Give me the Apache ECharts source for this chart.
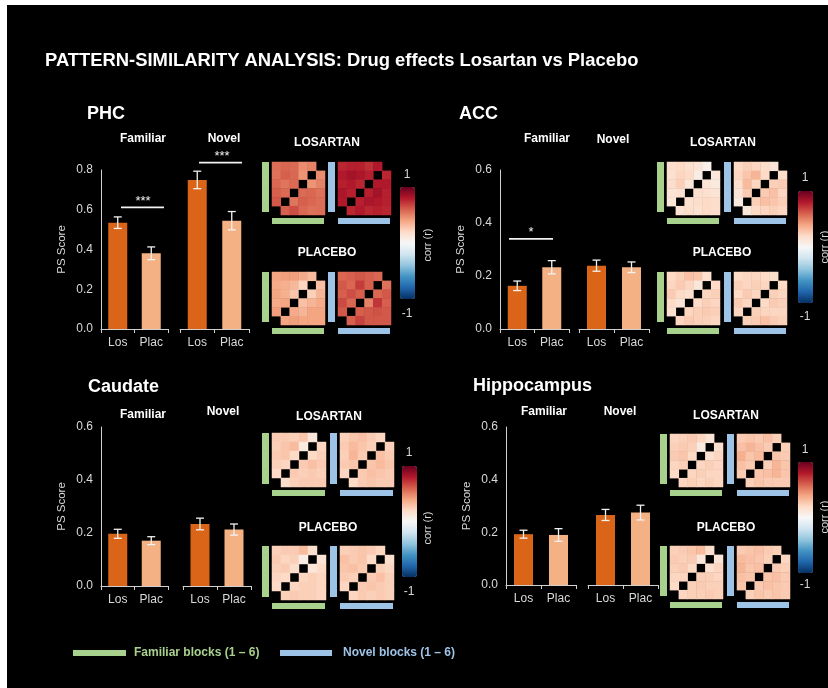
<!DOCTYPE html>
<html><head><meta charset="utf-8">
<script src="https://cdn.jsdelivr.net/npm/echarts@6/dist/echarts.min.js"></script>
<style>
html,body{margin:0;padding:0;background:#fff;width:828px;height:688px;overflow:hidden;}
#bg{position:absolute;left:7px;top:5px;right:0;bottom:0;background:#000;}
#c{position:absolute;left:0;top:0;width:828px;height:688px;}
</style>
</head><body><div id="bg"></div><div id="c"></div>
<script>
// ---------------- DATA ----------------
const regionNames = ['PHC', 'ACC', 'Caudate', 'Hippocampus'];
const conditions = ['Familiar', 'Novel'];
const groups = ['Los', 'Plac'];
const blockLabels = ['1', '2', '3', '4', '5', '6'];
const drugLabels = ['LOSARTAN', 'PLACEBO'];
const colorbarLabels = ['1', '-1'];
const legendLabels = ['Familiar blocks (1 – 6)', 'Novel blocks (1 – 6)'];

const phcFamiliarMean = [0.535, 0.381];  const phcFamiliarSem = [0.029, 0.032];
const phcNovelMean    = [0.750, 0.545];  const phcNovelSem    = [0.044, 0.046];
const accFamiliarMean = [0.163, 0.233];  const accFamiliarSem = [0.018, 0.025];
const accNovelMean    = [0.239, 0.233];  const accNovelSem    = [0.021, 0.020];
const caudateFamiliarMean = [0.197, 0.171]; const caudateFamiliarSem = [0.017, 0.015];
const caudateNovelMean    = [0.234, 0.213]; const caudateNovelSem    = [0.022, 0.021];
const hippoFamiliarMean   = [0.193, 0.190]; const hippoFamiliarSem   = [0.015, 0.024];
const hippoNovelMean      = [0.266, 0.275]; const hippoNovelSem      = [0.021, 0.028];
const yMaxByRegion = [0.8, 0.6, 0.6, 0.6];

// significance: [region, condition, label, height of bar line (PS score)]
const sigMarks = [[0, 0, '***', 0.612], [0, 1, '***', 0.837], [1, 0, '*', 0.340]];

// correlation matrices (rows top -> bottom, null = diagonal)
const phcLosFam = [
 [0.56,0.58,0.57,0.47,0.50,null],[0.55,0.60,0.58,0.45,null,0.47],[0.58,0.54,0.57,null,0.45,0.50],
 [0.60,0.57,null,0.57,0.58,0.55],[0.62,null,0.54,0.60,0.58,0.56],[null,0.60,0.65,0.58,0.55,0.56]];
const phcLosNov = [
 [0.76,0.78,0.78,0.74,0.80,null],[0.80,0.84,0.82,0.78,null,0.76],[0.78,0.80,0.76,null,0.80,0.80],
 [0.82,0.78,null,0.78,0.84,0.78],[0.80,null,0.78,0.82,0.80,0.78],[null,0.76,0.80,0.76,0.78,0.76]];
const phcPlaFam = [
 [0.40,0.42,0.42,0.38,0.32,null],[0.38,0.36,0.33,0.22,null,0.30],[0.40,0.36,0.28,null,0.24,0.34],
 [0.38,0.40,null,0.30,0.34,0.38],[0.42,null,0.38,0.34,0.40,0.40],[null,0.40,0.42,0.40,0.40,0.40]];
const phcPlaNov = [
 [0.58,0.60,0.62,0.60,0.58,null],[0.62,0.58,0.70,0.60,null,0.55],[0.60,0.65,0.60,null,0.58,0.62],
 [0.66,0.58,null,0.50,0.72,0.60],[0.62,null,0.60,0.62,0.64,0.62],[null,0.60,0.68,0.62,0.62,0.62]];
const accLosFam = [
 [0.18,0.20,0.16,0.14,0.05,null],[0.16,0.22,0.20,0.08,null,0.12],[0.18,0.24,0.12,null,0.14,0.10],
 [0.14,0.16,null,0.18,0.16,0.14],[0.12,null,0.16,0.18,0.20,0.18],[null,0.14,0.18,0.16,0.20,0.18]];
const accLosNov = [
 [0.20,0.24,0.22,0.18,0.14,null],[0.22,0.28,0.34,0.20,null,0.18],[0.18,0.32,0.22,null,0.24,0.26],
 [0.14,0.26,null,0.26,0.30,0.22],[0.10,null,0.24,0.30,0.28,0.24],[null,0.12,0.20,0.22,0.24,0.22]];
const accPlaFam = [
 [0.20,0.24,0.30,0.28,0.16,null],[0.22,0.26,0.22,0.12,null,0.20],[0.26,0.20,0.16,null,0.22,0.24],
 [0.20,0.14,null,0.20,0.24,0.22],[0.16,null,0.22,0.24,0.26,0.24],[null,0.22,0.26,0.24,0.24,0.22]];
const accPlaNov = [
 [0.20,0.22,0.22,0.20,0.18,null],[0.24,0.22,0.24,0.22,null,0.20],[0.20,0.26,0.22,null,0.24,0.22],
 [0.26,0.22,null,0.20,0.26,0.24],[0.22,null,0.24,0.22,0.22,0.22],[null,0.24,0.26,0.30,0.26,0.24]];
const caudateLosFam = [
 [0.26,0.26,0.24,0.28,0.12,null],[0.24,0.28,0.32,0.10,null,0.22],[0.26,0.28,0.20,null,0.20,0.24],
 [0.24,0.22,null,0.26,0.30,0.26],[0.20,null,0.26,0.24,0.26,0.24],[null,0.18,0.24,0.26,0.26,0.26]];
const caudateLosNov = [
 [0.24,0.28,0.30,0.26,0.22,null],[0.26,0.32,0.28,0.24,null,0.24],[0.24,0.34,0.26,null,0.30,0.26],
 [0.26,0.28,null,0.28,0.32,0.28],[0.22,null,0.26,0.30,0.28,0.26],[null,0.20,0.26,0.28,0.26,0.26]];
const caudatePlaFam = [
 [0.24,0.26,0.26,0.32,0.18,null],[0.26,0.22,0.24,0.08,null,0.14],[0.24,0.26,0.18,null,0.12,0.20],
 [0.22,0.20,null,0.22,0.24,0.22],[0.20,null,0.22,0.24,0.24,0.22],[null,0.24,0.26,0.24,0.24,0.22]];
const caudatePlaNov = [
 [0.24,0.26,0.28,0.26,0.22,null],[0.30,0.26,0.28,0.20,null,0.18],[0.28,0.30,0.26,null,0.24,0.22],
 [0.26,0.24,null,0.26,0.30,0.24],[0.22,null,0.26,0.28,0.26,0.24],[null,0.22,0.26,0.24,0.26,0.24]];
const hippoLosFam = [
 [0.22,0.24,0.26,0.22,0.14,null],[0.24,0.26,0.24,0.10,null,0.18],[0.26,0.28,0.20,null,0.16,0.22],
 [0.22,0.24,null,0.22,0.24,0.22],[0.20,null,0.22,0.24,0.22,0.22],[null,0.22,0.24,0.22,0.24,0.22]];
const hippoLosNov = [
 [0.26,0.28,0.26,0.30,0.24,null],[0.30,0.34,0.30,0.26,null,0.24],[0.36,0.28,0.32,null,0.28,0.26],
 [0.30,0.26,null,0.24,0.34,0.28],[0.26,null,0.28,0.30,0.34,0.28],[null,0.24,0.28,0.26,0.26,0.26]];
const hippoPlaFam = [
 [0.24,0.26,0.28,0.32,0.18,null],[0.26,0.24,0.26,0.12,null,0.14],[0.24,0.26,0.20,null,0.16,0.22],
 [0.22,0.22,null,0.24,0.24,0.22],[0.20,null,0.24,0.26,0.24,0.24],[null,0.22,0.24,0.24,0.26,0.24]];
const hippoPlaNov = [
 [0.26,0.28,0.30,0.26,0.24,null],[0.32,0.30,0.28,0.24,null,0.22],[0.34,0.28,0.30,null,0.26,0.24],
 [0.30,0.28,null,0.28,0.30,0.26],[0.28,null,0.26,0.30,0.28,0.26],[null,0.24,0.28,0.26,0.28,0.26]];

// ---------------- STYLE / LAYOUT ----------------
const FONT = '"Liberation Sans", Arial, sans-serif';
const AX = '#d0d0d0', TXT = '#d9d9d9';
const BAR_COLORS = ['#da6519', '#f4b183'];
const GREEN = '#a9d18e', BLUE = '#9dc3e6';
const RDBU = ['#053061','#2166ac','#4393c3','#92c5de','#d1e5f0','#f7f7f7','#fddbc7','#f4a582','#d6604d','#b2182b','#67001f'];

const layout = [
 { fam:[101,170,67,159], nov:[180,170,69,159], title:[87,114], famLbl:[143,139], novLbl:[224,139],
   heat:[[272,162],[338,162],[272,272],[338,272]], hs:53, drugLbl:[[327,143],[327,253]],
   cbar:[400,187,15,112], cbTxt:[[407,175],[407,314]], corr:[428,245],
   sig:[[121,164,143],[199,242,222]] },
 { fam:[500,170,69,159], nov:[579,170,70,159], title:[459,114], famLbl:[547,139], novLbl:[613,140],
   heat:[[667,162],[734,162],[667,272],[734,272]], hs:53, drugLbl:[[723,143],[722,253]],
   cbar:[798,191,15,112], cbTxt:[[805,178],[805,317]], corr:[825,247],
   sig:[[509,553,531]] },
 { fam:[101,427,67,159], nov:[183,427,68,159], title:[88,387], famLbl:[143,415], novLbl:[223,412],
   heat:[[272,433],[340,433],[272,546],[340,546]], hs:54, drugLbl:[[329,417],[328,528]],
   cbar:[402,466,15,111], cbTxt:[[409,453],[409,592]], corr:[428,528], sig:[] },
 { fam:[506,427,70,158], nov:[588,427,70,158], title:[473,386], famLbl:[544,412], novLbl:[620,412],
   heat:[[670,434],[737,434],[670,546],[737,546]], hs:53, drugLbl:[[726,416],[726,528]],
   cbar:[798,462,15,111], cbTxt:[[805,450],[805,585]], corr:[825,517], sig:[] }
];

const regionBars = [
 [[phcFamiliarMean, phcFamiliarSem], [phcNovelMean, phcNovelSem]],
 [[accFamiliarMean, accFamiliarSem], [accNovelMean, accNovelSem]],
 [[caudateFamiliarMean, caudateFamiliarSem], [caudateNovelMean, caudateNovelSem]],
 [[hippoFamiliarMean, hippoFamiliarSem], [hippoNovelMean, hippoNovelSem]]
];
const regionMatrices = [
 [phcLosFam, phcLosNov, phcPlaFam, phcPlaNov],
 [accLosFam, accLosNov, accPlaFam, accPlaNov],
 [caudateLosFam, caudateLosNov, caudatePlaFam, caudatePlaNov],
 [hippoLosFam, hippoLosNov, hippoPlaFam, hippoPlaNov]
];

// ---------------- BUILD ----------------
const grids = [], xAxes = [], yAxes = [], series = [], visualMaps = [], graphics = [];

function txt(x, y, text, fill, font, align, valign, rotation) {
  return { type:'text', x, y, rotation: rotation || 0, silent:true, z:50,
    style:{ text, fill, font, align: align||'left', verticalAlign: valign||'middle',
            textAlign: align||'left', textVerticalAlign: valign||'middle' } };
}
function rect(x, y, w, h, fill) {
  return { type:'rect', shape:{x, y, width:w, height:h}, style:{fill}, silent:true, z:40 };
}

function errRender(params, api) {
  const x = api.value(0);
  const lo = api.coord([x, api.value(1)]), hi = api.coord([x, api.value(2)]);
  const w = 4, st = { stroke:'#f2f2f2', lineWidth:1.3 };
  return { type:'group', children:[
    { type:'line', shape:{x1:lo[0], y1:lo[1], x2:hi[0], y2:hi[1]}, style:st },
    { type:'line', shape:{x1:lo[0]-w, y1:lo[1], x2:lo[0]+w, y2:lo[1]}, style:st },
    { type:'line', shape:{x1:hi[0]-w, y1:hi[1], x2:hi[0]+w, y2:hi[1]}, style:st } ] };
}

function addBarGrid(r, means, sems, max, showY) {
  const gi = grids.length;
  grids.push({ left:r[0], top:r[1], width:r[2], height:r[3], containLabel:false, outerBoundsMode:'none' });
  xAxes.push({ type:'category', gridIndex:gi, data:groups,
    axisLine:{ lineStyle:{ color:AX, width:1 } }, axisTick:{ show:true, length:4, lineStyle:{ color:AX } },
    axisLabel:{ color:TXT, fontSize:12, margin:8, fontFamily:FONT }, splitLine:{ show:false } });
  yAxes.push({ type:'value', gridIndex:gi, min:0, max:max, interval:0.2, show:showY,
    axisLine:{ show:true, lineStyle:{ color:AX } }, axisTick:{ show:false }, splitLine:{ show:false },
    axisLabel:{ color:TXT, fontSize:12, margin:8, fontFamily:FONT, formatter:v => v.toFixed(1) },
    name: showY ? 'PS Score' : '', nameLocation:'middle', nameGap:33,
    nameTextStyle:{ color:TXT, fontSize:11.5, fontFamily:FONT } });
  series.push({ type:'bar', xAxisIndex:gi, yAxisIndex:gi, barWidth:19, silent:true,
    data: means.map((v, i) => ({ value:v, itemStyle:{ color:BAR_COLORS[i] } })) });
  series.push({ type:'custom', xAxisIndex:gi, yAxisIndex:gi, silent:true, z:5,
    encode:{ x:0, y:[1,2] }, renderItem: errRender,
    data: means.map((v, i) => [i, v - sems[i], v + sems[i]]) });
  return gi;
}

function addHeat(x, y, size, matrix) {
  const gi = grids.length;
  grids.push({ left:x, top:y, width:size, height:size, containLabel:false, outerBoundsMode:'none' });
  xAxes.push({ type:'category', gridIndex:gi, data:blockLabels, show:false });
  yAxes.push({ type:'category', gridIndex:gi, data:blockLabels, show:false });
  const data = [];
  matrix.forEach((row, r) => row.forEach((v, c) => { if (v !== null) data.push([c, matrix.length - 1 - r, v]); }));
  series.push({ type:'heatmap', xAxisIndex:gi, yAxisIndex:gi, data, silent:true, itemStyle:{ borderWidth:0 } });
  return series.length - 1;
}

const barGridIdx = [];
graphics.push(txt(45, 61, 'PATTERN-SIMILARITY ANALYSIS: Drug effects Losartan vs Placebo', '#ffffff', 'bold 18.4px ' + FONT));

regionNames.forEach((name, p) => {
  const L = layout[p];
  const fam = addBarGrid(L.fam, regionBars[p][0][0], regionBars[p][0][1], yMaxByRegion[p], true);
  const nov = addBarGrid(L.nov, regionBars[p][1][0], regionBars[p][1][1], yMaxByRegion[p], false);
  barGridIdx.push([fam, nov]);
  graphics.push(txt(L.title[0], L.title[1], name, '#ffffff', 'bold 18px ' + FONT));
  graphics.push(txt(L.famLbl[0], L.famLbl[1], conditions[0], '#ffffff', 'bold 12px ' + FONT, 'center'));
  graphics.push(txt(L.novLbl[0], L.novLbl[1], conditions[1], '#ffffff', 'bold 12px ' + FONT, 'center'));

  const heatSeries = [];
  L.heat.forEach((pos, k) => {
    heatSeries.push(addHeat(pos[0], pos[1], L.hs, regionMatrices[p][k]));
    const col = (k % 2 === 0) ? GREEN : BLUE;
    graphics.push(rect(pos[0] - 10, pos[1], 7, L.hs - 3, col));
    graphics.push(rect(pos[0], pos[1] + L.hs + 3, L.hs - 1, 6, col));
  });
  graphics.push(txt(L.drugLbl[0][0], L.drugLbl[0][1], drugLabels[0], '#ffffff', 'bold 12px ' + FONT, 'center'));
  graphics.push(txt(L.drugLbl[1][0], L.drugLbl[1][1], drugLabels[1], '#ffffff', 'bold 12px ' + FONT, 'center'));

  visualMaps.push({ type:'continuous', min:-1, max:1, seriesIndex:heatSeries, orient:'vertical',
    left:L.cbar[0], top:L.cbar[1], itemWidth:L.cbar[2], itemHeight:L.cbar[3], padding:0,
    calculable:false, hoverLink:false, inRange:{ color:RDBU } });
  graphics.push(txt(L.cbTxt[0][0], L.cbTxt[0][1], colorbarLabels[0], TXT, '12px ' + FONT, 'center'));
  graphics.push(txt(L.cbTxt[1][0], L.cbTxt[1][1], colorbarLabels[1], TXT, '12px ' + FONT, 'center'));
  graphics.push(txt(L.corr[0], L.corr[1], 'corr (r)', TXT, '11px ' + FONT, 'center', 'middle', Math.PI / 2));
});

// legend
graphics.push(rect(73, 650, 53, 6, GREEN));
graphics.push(txt(134, 653, legendLabels[0], GREEN, 'bold 12px ' + FONT));
graphics.push(rect(280, 650, 52, 6, BLUE));
graphics.push(txt(343, 653, legendLabels[1], BLUE, 'bold 12px ' + FONT));

const chart = echarts.init(document.getElementById('c'));
const option = {
  animation:false, backgroundColor:'transparent', textStyle:{ fontFamily:FONT },
  grid:grids, xAxis:xAxes, yAxis:yAxes, visualMap:visualMaps, series:series, graphic:graphics
};
chart.setOption(option);

// significance annotations positioned through the axis scale
const sigByRegion = [0, 0, 0, 0];
sigMarks.forEach(m => {
  const [p, c, label, val] = m;
  const L = layout[p];
  const s = L.sig[sigByRegion[p]++];
  const py = chart.convertToPixel({ gridIndex: barGridIdx[p][c] }, [0, val])[1];
  graphics.push({ type:'line', silent:true, z:50, shape:{ x1:s[0], y1:py, x2:s[1], y2:py },
    style:{ stroke:'#f2f2f2', lineWidth:1.6 } });
  graphics.push(txt(s[2], py - 6, label, '#f2f2f2', '13px ' + FONT, 'center'));
});
chart.setOption({ graphic: graphics });
</script>
</body></html>
